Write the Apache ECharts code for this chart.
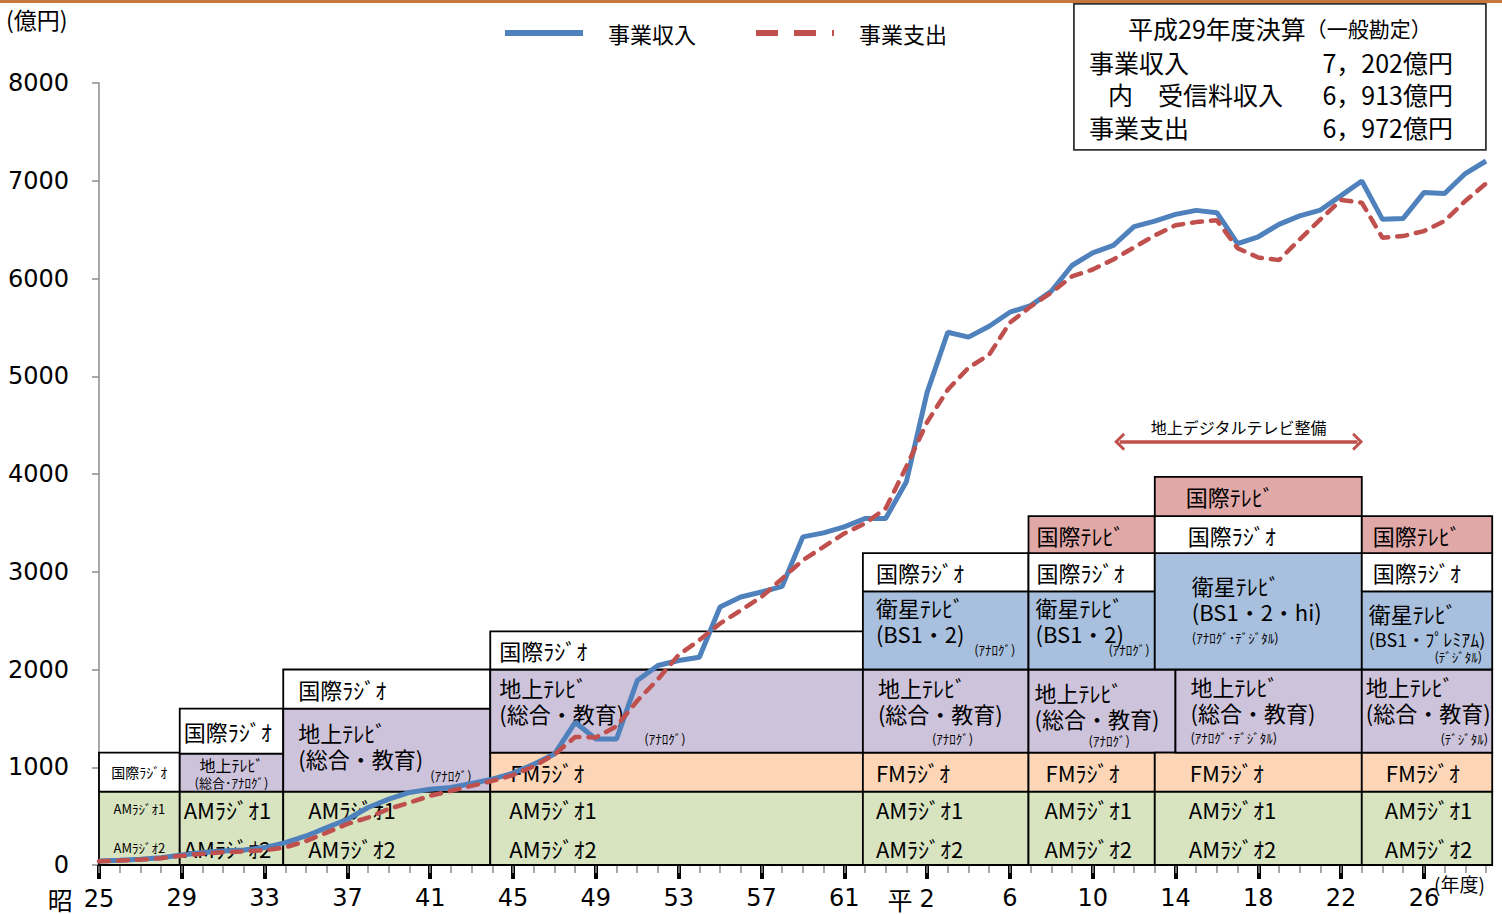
<!DOCTYPE html>
<html>
<head>
<meta charset="utf-8">
<script src="https://cdn.jsdelivr.net/npm/echarts@6/dist/echarts.min.js"></script>
<style>
html,body{margin:0;padding:0;background:#fff;}
#chart{width:1502px;height:914px;}
</style>
</head>
<body>
<div id="chart"></div>
<script>
// ---------- data ----------
const BASE = 1950; // 昭和25年度
const fiscalYears = [1950,1951,1952,1953,1954,1955,1956,1957,1958,1959,
  1960,1961,1962,1963,1964,1965,1966,1967,1968,1969,
  1970,1971,1972,1973,1974,1975,1976,1977,1978,1979,
  1980,1981,1982,1983,1984,1985,1986,1987,1988,1989,
  1990,1991,1992,1993,1994,1995,1996,1997,1998,1999,
  2000,2001,2002,2003,2004,2005,2006,2007,2008,2009,
  2010,2011,2012,2013,2014,2015,2016,2017];
const revenue = [41,48,58,75,103,127,144,154,178,229,
  297,383,468,588,674,742,776,793,834,879,
  940,1030,1135,1460,1289,1289,1887,2041,2092,2126,
  2639,2742,2793,2851,3357,3398,3459,3545,3545,3921,
  4833,5450,5400,5511,5655,5723,5870,6133,6263,6338,
  6530,6587,6656,6697,6673,6356,6427,6554,6640,6700,
  6848,6998,6605,6615,6879,6870,7074,7202];
const expense = [38,45,55,70,95,115,130,140,150,180,
  246,331,420,485,574,639,708,759,810,860,
  920,1010,1130,1310,1305,1420,1680,1900,2150,2300,
  2470,2605,2742,2930,3118,3255,3392,3494,3648,4075,
  4530,4862,5087,5220,5548,5713,5856,6021,6092,6195,
  6318,6441,6544,6577,6595,6310,6215,6188,6400,6605,
  6803,6776,6417,6434,6485,6588,6793,6972];
const seriesNames = ['事業収入','事業支出'];

const tickYears = [1950,1954,1958,1962,1966,1970,1974,1978,1982,1986,1990,1994,1998,2002,2006,2010,2014];
const tickLabels = ['昭 25','29','33','37','41','45','49','53','57','61','平 2','6','10','14','18','22','26'];
const yTicks = [0,1000,2000,3000,4000,5000,6000,7000,8000];

// service blocks (fiscal-year span, value span)
const boxFrom = [1950,1950, 1953.9,1953.9,1953.9, 1958.9,1958.9,1958.9, 1968.9,1968.9,1968.9,1968.9,
  1986.9,1986.9,1986.9,1986.9,1986.9, 1994.9,1994.9,1994.9,1994.9,1994.9,1994.9,
  2001,2001,2002,2001,2001,2001, 2011,2011,2011,2011,2011,2011];
const boxTo = [1953.9,1953.9, 1958.9,1958.9,1958.9, 1968.9,1968.9,1968.9, 1986.9,1986.9,1986.9,1986.9,
  1994.9,1994.9,1994.9,1994.9,1994.9, 2001,2001,2002,2001,2001,2001,
  2011,2011,2011,2011,2011,2011, 2017.3,2017.3,2017.3,2017.3,2017.3,2017.3];
const boxLow = [0,750, 0,750,1140, 0,750,1600, 0,750,1150,2000,
  0,750,1150,2000,2800, 0,750,1150,2000,2800,3190,
  0,750,1150,2000,3190,3570, 0,750,1150,2000,2800,3190];
const boxHigh = [750,1150, 750,1140,1600, 750,1600,2000, 750,1150,2000,2390,
  750,1150,2000,2800,3190, 750,1150,2000,2800,3190,3570,
  750,1150,2000,3190,3570,3970, 750,1150,2000,2800,3190,3570];
const boxKind = ['AM','IR', 'AM','GT','IR', 'AM','GT','IR', 'AM','FM','GT','IR',
  'AM','FM','GT','BS','IR', 'AM','FM','GT','BS','IR','IT',
  'AM','FM','GT','BS','IR','IT', 'AM','FM','GT','BS','IR','IT'];
const AM = 'AMﾗｼﾞｵ1\nAMﾗｼﾞｵ2', FM = 'FMﾗｼﾞｵ', IR = '国際ﾗｼﾞｵ', IT = '国際ﾃﾚﾋﾞ', GT = '地上ﾃﾚﾋﾞ\n(総合・教育)';
const boxLabel = [AM,IR, AM,'地上ﾃﾚﾋﾞ',IR, AM,GT,IR, AM,FM,GT,IR,
  AM,FM,GT,'衛星ﾃﾚﾋﾞ\n(BS1・2)',IR, AM,FM,GT,'衛星ﾃﾚﾋﾞ\n(BS1・2)',IR,IT,
  AM,FM,GT,'衛星ﾃﾚﾋﾞ\n(BS1・2・hi)',IR,IT, AM,FM,GT,'衛星ﾃﾚﾋﾞ\n(BS1・ﾌﾟﾚﾐｱﾑ)',IR,IT];
const boxNote = ['','', '','(総合･ｱﾅﾛｸﾞ)','', '','(ｱﾅﾛｸﾞ)','', '','','(ｱﾅﾛｸﾞ)','',
  '','','(ｱﾅﾛｸﾞ)','(ｱﾅﾛｸﾞ)','', '','','(ｱﾅﾛｸﾞ)','(ｱﾅﾛｸﾞ)','','',
  '','','(ｱﾅﾛｸﾞ･ﾃﾞｼﾞﾀﾙ)','(ｱﾅﾛｸﾞ･ﾃﾞｼﾞﾀﾙ)','','', '','','(ﾃﾞｼﾞﾀﾙ)','(ﾃﾞｼﾞﾀﾙ)','',''];

// digital-terrestrial arrow annotation
const arrowFrom = 1999.3, arrowTo = 2010.8, arrowLevel = 4330;
const arrowText = '地上デジタルテレビ整備';

// summary box text
const summaryTitle = '平成29年度決算';
const summarySub = '（一般勘定）';
const summaryRows = [['事業収入','7，202億円'],['内　受信料収入','6，913億円'],['事業支出','6，972億円']];

// ---------- styles ----------
const CJK = '"Noto Sans CJK JP","Noto Sans",sans-serif';
const NUM = '"DejaVu Sans",sans-serif';
const kindColor = {AM:'#d8e4bf', FM:'#fcd6b7', GT:'#cdc3db', BS:'#a8c0de', IR:'#ffffff', IT:'#e0a8a7'};
// text layout inside each block (pixels)
const layout = [
 {c:1, fs:13, lh:39}, {c:1, fs:14},
 {pad:4, fs:22, lh:39}, {c:1, fs:16, top:11, note:['C',0,'T',29,13]}, {pad:4, fs:22},
 {pad:25, fs:22, lh:39}, {pad:15, fs:22, lh:26, top:23, note:['L',147,'B',-16,13]}, {pad:15, fs:22},
 {pad:19, fs:22, lh:39}, {pad:20, fs:22}, {pad:9, fs:22, lh:26, top:17, note:['L',154,'B',-14,13]}, {pad:9, fs:22},
 {pad:13, fs:22, lh:39}, {pad:13, fs:22}, {pad:15, fs:22, lh:26, top:17, note:['L',69,'B',-14,13]},
 {pad:13, fs:22, lh:26, top:16, note:['R',-13,'T',58,13]}, {pad:13, fs:22},
 {pad:16, fs:22, lh:39}, {pad:17, fs:22}, {pad:6, fs:22, lh:26, top:22, note:['L',60,'B',-12,13]},
 {pad:7, fs:22, lh:26, top:16, note:['R',-5,'T',58,13]}, {pad:8, fs:22}, {pad:8, fs:22},
 {pad:34, fs:22, lh:39}, {pad:35, fs:22}, {pad:15, fs:22, lh:26, top:16, note:['L',15,'T',68,13]},
 {pad:37, fs:22, lh:26, top:32, note:['L',37,'T',84,13]}, {pad:33, fs:22}, {pad:31, fs:22},
 {pad:23, fs:22, lh:39}, {pad:24, fs:22}, {pad:4, fs:22, lh:26, top:16, note:['R',-4,'B',-14,13]},
 {pad:7, fs:22, lh:26, top:22, fs2:18, note:['R',-10,'T',65,13]}, {pad:11, fs:22}, {pad:11, fs:22}
];

function renderBox(params, api) {
  const i = api.value(4);
  const p0 = api.coord([api.value(0), api.value(3)]);
  const p1 = api.coord([api.value(1), api.value(2)]);
  const x0 = p0[0], y0 = p0[1], x1 = p1[0], y1 = p1[1];
  const L = layout[i];
  const children = [{
    type: 'rect',
    shape: {x: x0, y: y0, width: x1 - x0, height: y1 - y0},
    style: {fill: kindColor[boxKind[i]], stroke: '#000', lineWidth: 1.8}
  }];
  const lines = boxLabel[i].split('\n');
  const lh = L.lh || 26;
  const cy = L.top != null ? y0 + L.top : (y0 + y1) / 2 - (lines.length - 1) * lh / 2;
  lines.forEach((t, k) => {
    const fs = (k > 0 && L.fs2) ? L.fs2 : L.fs;
    children.push({
      type: 'text',
      style: {
        text: t, x: L.c ? (x0 + x1) / 2 : x0 + L.pad, y: cy + k * lh,
        fill: '#000', fontSize: fs, fontFamily: CJK,
        align: L.c ? 'center' : 'left', verticalAlign: 'middle'
      }
    });
  });
  if (boxNote[i] && L.note) {
    const n = L.note;
    const nx = n[0] === 'L' ? x0 + n[1] : n[0] === 'R' ? x1 + n[1] : (x0 + x1) / 2;
    const ny = n[2] === 'T' ? y0 + n[3] : y1 + n[3];
    children.push({
      type: 'text',
      style: {
        text: boxNote[i], x: nx, y: ny, fill: '#000', fontSize: n[4], fontFamily: CJK,
        align: n[0] === 'L' ? 'left' : n[0] === 'R' ? 'right' : 'center', verticalAlign: 'middle'
      }
    });
  }
  return {type: 'group', children};
}

const chart = echarts.init(document.getElementById('chart'), null, {renderer: 'svg'});
const arrowSym = 'path://M0,10 L10,0 L20,10 L17.5,12 L10,4.5 L2.5,12 Z';

chart.setOption({
  animation: false,
  backgroundColor: '#fff',
  grid: {left: 99, right: 16, top: 83, bottom: 49, containLabel: false},
  legend: {
    data: [
      {name: seriesNames[0], lineStyle: {width: 6}},
      {name: seriesNames[1], lineStyle: {width: 6, type: [22, 16], cap: 'butt'}}
    ],
    left: 497, top: 17, itemWidth: 78, itemHeight: 14, itemGap: 57,
    itemStyle: {opacity: 0},
    textStyle: {fontFamily: CJK, fontSize: 22, color: '#000', padding: [0, 0, 0, 20]}
  },
  xAxis: [{
    type: 'value', min: 0, max: fiscalYears[fiscalYears.length - 1] - BASE, interval: 4,
    position: 'bottom',
    axisLine: {show: true, lineStyle: {color: '#000', width: 1.5}},
    axisTick: {show: true, length: 14, lineStyle: {color: '#000', width: 4}, customValues: tickYears.map(y => y - BASE)},
    axisLabel: {
      margin: 21, customValues: tickYears.map(y => y - BASE),
      formatter: v => {
        const i = tickYears.indexOf(Math.round(v) + BASE);
        if (i < 0) return '';
        const t = tickLabels[i];
        const m = t.match(/^(\S+) (\d+)$/);
        if (m) return m[1] === '昭' ? `{a|${m[1]}}{n|${m[2]}}{qa| }` : `{b|${m[1]}}{n|${m[2]}}{qb| }`;
        return `{n|${t}}`;
      },
      rich: {
        a: {fontFamily: CJK, fontSize: 25, color: '#000', width: 36, align: 'left'},
        qa: {width: 36, fontSize: 24},
        b: {fontFamily: CJK, fontSize: 25, color: '#000', width: 32, align: 'left'},
        qb: {width: 32, fontSize: 24},
        n: {fontFamily: NUM, fontSize: 24, color: '#000'}
      }
    },
    splitLine: {show: false}
  }, {
    type: 'value', min: 0, max: fiscalYears[fiscalYears.length - 1] - BASE, interval: 1,
    position: 'bottom',
    axisLine: {show: false},
    axisTick: {show: true, length: 8, lineStyle: {color: '#8c8c8c', width: 1.5}},
    axisLabel: {show: false},
    splitLine: {show: false}
  }],
  yAxis: {
    type: 'value', min: yTicks[0], max: yTicks[yTicks.length - 1], interval: 1000,
    axisLine: {show: true, lineStyle: {color: '#8c8c8c', width: 1.5}},
    axisTick: {show: true, length: 7, lineStyle: {color: '#8c8c8c', width: 1.5}},
    axisLabel: {margin: 30, fontFamily: NUM, fontSize: 24, color: '#000', formatter: v => String(v)},
    splitLine: {show: false}
  },
  graphic: [
    {type: 'rect', left: 0, top: 0, z: 10, shape: {width: 1502, height: 3}, style: {fill: '#c5773d'}},
    {type: 'text', left: 6, top: 7, style: {text: '(億円)', fontFamily: CJK, fontSize: 23, fill: '#000'}},
    {type: 'text', left: 1434, top: 874, style: {text: '(年度)', fontFamily: CJK, fontSize: 19, fill: '#000'}},
    {type: 'group', left: 1073, top: 3, children: [
      {type: 'rect', shape: {x: 0, y: 0, width: 412, height: 146}, style: {fill: '#fff', stroke: '#333', lineWidth: 1.8}},
      {type: 'text', style: {x: 206, y: 24, text: `{t|${summaryTitle}}{s|${summarySub}}`, align: 'center', verticalAlign: 'middle',
        rich: {t: {fontFamily: CJK, fontSize: 25, fill: '#000'}, s: {fontFamily: CJK, fontSize: 21, fill: '#000'}}}},
      {type: 'text', style: {x: 15, y: 58, text: summaryRows[0][0], fontFamily: CJK, fontSize: 25, fill: '#000', verticalAlign: 'middle'}},
      {type: 'text', style: {x: 379, y: 58, text: summaryRows[0][1], fontFamily: CJK, fontSize: 25, fill: '#000', align: 'right', verticalAlign: 'middle'}},
      {type: 'text', style: {x: 34, y: 90, text: summaryRows[1][0], fontFamily: CJK, fontSize: 25, fill: '#000', verticalAlign: 'middle'}},
      {type: 'text', style: {x: 379, y: 90, text: summaryRows[1][1], fontFamily: CJK, fontSize: 25, fill: '#000', align: 'right', verticalAlign: 'middle'}},
      {type: 'text', style: {x: 15, y: 123, text: summaryRows[2][0], fontFamily: CJK, fontSize: 25, fill: '#000', verticalAlign: 'middle'}},
      {type: 'text', style: {x: 379, y: 123, text: summaryRows[2][1], fontFamily: CJK, fontSize: 25, fill: '#000', align: 'right', verticalAlign: 'middle'}}
    ]}
  ],
  series: [
    {
      type: 'custom', name: 'blocks', z: 1, clip: false, silent: true,
      renderItem: renderBox,
      encode: {x: [0, 1], y: [2, 3]},
      data: boxFrom.map((f, i) => [f - BASE, boxTo[i] - BASE, boxLow[i], boxHigh[i], i])
    },
    {
      type: 'line', name: seriesNames[0], z: 3, symbol: 'none',
      lineStyle: {color: '#4f81bd', width: 5},
      itemStyle: {color: '#4f81bd'},
      data: fiscalYears.map((y, i) => [y - BASE, revenue[i]])
    },
    {
      type: 'line', name: seriesNames[1], z: 4, symbol: 'none',
      lineStyle: {color: '#c0504d', width: 4.5, type: [10, 9], cap: 'round'},
      itemStyle: {color: '#c0504d'},
      data: fiscalYears.map((y, i) => [y - BASE, expense[i]]),
      markLine: {
        silent: true, symbol: [arrowSym, arrowSym], symbolSize: [18, 11],
        lineStyle: {color: '#c0504d', width: 3.5, type: 'solid'},
        label: {show: true, position: 'insideMiddleTop', formatter: arrowText, color: '#000',
          fontFamily: CJK, fontSize: 16, distance: 7},
        data: [[{coord: [arrowFrom - BASE, arrowLevel]}, {coord: [arrowTo - BASE, arrowLevel]}]]
      }
    }
  ]
});
</script>
</body>
</html>
